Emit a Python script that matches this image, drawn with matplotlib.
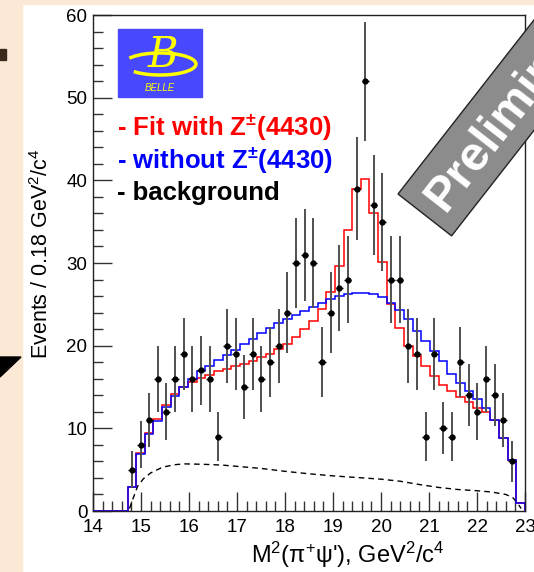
import numpy as np
import matplotlib.pyplot as plt
from matplotlib.patches import Rectangle, Polygon, Arc
from matplotlib.ticker import MultipleLocator

plt.rcParams["font.family"] = ["Liberation Sans", "DejaVu Sans"]
plt.rcParams["mathtext.default"] = "regular"

W, H = 534, 572

# === DATA: M^2(pi+ psi') in 0.18 GeV^2 bins, first filled bin starts at 14.72 ===
X_MIN, X_MAX = 14.0, 23.0
BIN_WIDTH = 0.18
FIRST_EDGE = 14.72

counts = [5, 8, 11, 16, 12, 16, 19, 16, 17, 16,
          9, 20, 19, 15, 19, 16, 18, 20, 24, 30,
          31, 30, 18, 24, 27, 28, 39, 52, 37, 35,
          28, 28, 20, 19, 9, 19, 10, 9, 18, 14,
          12, 16, 14, 11, 6, 0]

fit_with_z = [2.9, 7.0, 9.4, 11.1, 12.8, 14.1, 15.0, 15.6, 16.1, 16.5,
              16.9, 17.2, 17.5, 17.8, 18.2, 18.6, 19.0, 19.6, 20.2, 21.0,
              22.0, 23.0, 24.4, 26.5, 29.6, 34.0, 38.9, 40.2, 36.0, 30.1,
              25.1, 22.1, 20.0, 18.7, 17.5, 16.3, 15.3, 14.5, 13.8, 13.2,
              12.5, 12.0, 11.0, 8.8, 6.2, 1.0]

fit_without_z = [2.9, 6.9, 9.3, 10.9, 12.6, 13.9, 15.0, 16.0, 16.9, 17.6,
                 18.3, 18.9, 19.5, 20.2, 20.8, 21.5, 22.1, 22.7, 23.2, 23.7,
                 24.2, 24.7, 25.2, 25.6, 26.0, 26.2, 26.4, 26.4, 26.2, 25.9,
                 25.2, 24.3, 23.2, 21.8, 20.6, 19.3, 18.1, 16.6, 15.5, 14.5,
                 13.5, 12.4, 11.0, 8.8, 6.2, 1.0]

bkg_x = [14.76, 14.84, 14.93, 15.05, 15.2, 15.45, 15.7, 15.9, 16.3, 16.7,
         17.1, 17.5, 18.0, 18.5, 19.0, 19.5, 20.0, 20.4, 20.8, 21.2,
         21.6, 22.0, 22.3, 22.6, 22.75, 22.85, 22.92]
bkg_y = [0.3, 1.6, 3.0, 3.9, 4.6, 5.3, 5.6, 5.7, 5.65, 5.55,
         5.35, 5.15, 4.8, 4.5, 4.25, 4.05, 3.85, 3.6, 3.2, 2.85,
         2.6, 2.45, 2.3, 2.0, 1.6, 0.9, 0.3]

# full binning 14..23, empty below the kinematic threshold
n_lead = int(round((FIRST_EDGE - X_MIN) / BIN_WIDTH))
edges = X_MIN + BIN_WIDTH * np.arange(n_lead + len(counts) + 1)
centers = FIRST_EDGE + BIN_WIDTH * (np.arange(len(counts)) + 0.5)
red_vals = np.r_[np.zeros(n_lead), fit_with_z]
blue_vals = np.r_[np.zeros(n_lead), fit_without_z]


def fx(px):
    return px / W


def fy(py):
    return 1 - py / H


fig = plt.figure(figsize=(W / 100, H / 100), dpi=100)
fig.patch.set_facecolor("white")

# slide frame around the plot
beige = "#fce9d5"
fig.patches.append(Rectangle((0, 0), fx(22), 1, transform=fig.transFigure, color=beige, zorder=0))
fig.patches.append(Rectangle((0, fy(4)), 1, 1 - fy(4), transform=fig.transFigure, color=beige, zorder=0))
fig.patches.append(Rectangle((0, fy(60)), fx(6), fy(49) - fy(60), transform=fig.transFigure,
                             color="#3a2a1c", zorder=1))
fig.patches.append(Polygon([(fx(0), fy(357)), (fx(21), fy(357)), (fx(0), fy(377))],
                           transform=fig.transFigure, color="black", zorder=1))

ax = fig.add_axes([fx(93), fy(511), fx(525) - fx(93), fy(15) - fy(511)])

# === PLOT ===
ax.stairs(red_vals, edges, color="#ff0000", lw=1.1, zorder=3)
ax.stairs(blue_vals, edges, color="#0000ff", lw=1.1, zorder=4)
ax.plot(bkg_x, bkg_y, color="black", lw=1.0, ls=(0, (4, 3)), zorder=3)

cnt = np.array(counts, dtype=float)
has = cnt > 0
ax.errorbar(centers[has], cnt[has], yerr=np.sqrt(cnt[has]), fmt="none",
            ecolor="#505050", elinewidth=1.4, zorder=5)
ax.errorbar(centers[has], cnt[has], xerr=0.075, fmt="o", color="black",
            ms=3.5, elinewidth=1.0, zorder=6)

ax.set_xlim(X_MIN, X_MAX)
ax.set_ylim(0, 60)
ax.set_xticks(range(14, 24))
ax.set_yticks(range(0, 61, 10))
ax.xaxis.set_minor_locator(MultipleLocator(0.2))
ax.yaxis.set_minor_locator(MultipleLocator(2))
ax.tick_params(which="both", direction="in", top=False, right=False, width=1, colors="#333333",
               labelcolor="black", labelsize=13.5)
ax.tick_params(which="major", length=14)
ax.tick_params(axis="x", which="major", pad=6)
ax.tick_params(axis="y", which="major", pad=4)
ax.tick_params(which="minor", length=7)
for s in ax.spines.values():
    s.set_linewidth(1.0)
    s.set_color("#222222")

fig.text(fx(348), fy(555), "M$^{2}$(π$^{+}$ψ'), GeV$^{2}$/c$^{4}$", ha="center", va="center", fontsize=17)
fig.text(fx(42), fy(254), "Events / 0.18 GeV$^{2}$/c$^{4}$", ha="center", va="center",
         rotation=90, fontsize=15.5)

# legend lines
fig.text(fx(117), fy(127), "- Fit with Z$^{\\pm}$(4430)", color="#ff0000", fontsize=18.5,
         fontweight="bold", ha="left", va="center")
fig.text(fx(117), fy(160), "- without Z$^{\\pm}$(4430)", color="#0000ff", fontsize=18.5,
         fontweight="bold", ha="left", va="center")
fig.text(fx(117), fy(193), "- background", color="black", fontsize=18.5,
         fontweight="bold", ha="left", va="center")

# Belle logo
fig.patches.append(Rectangle((fx(118), fy(97)), fx(202) - fx(118), fy(29) - fy(97),
                             transform=fig.transFigure, color="#4848ff", zorder=5))
fig.patches.append(Arc((fx(160), fy(64)), fx(72), 22 / H, angle=0, theta1=195, theta2=170,
                       transform=fig.transFigure, color="#ffff00", lw=2.5, zorder=6))
fig.text(fx(163), fy(55), "B", color="#ffff00", fontsize=30, fontstyle="italic",
         family="DejaVu Serif", ha="center", va="center", zorder=7)
fig.text(fx(160), fy(88), "BELLE", color="#ffff00", fontsize=7, fontstyle="italic",
         ha="center", va="center", zorder=7)

# "Preliminary" banner
ang = np.deg2rad(52)
u = np.array([np.cos(ang), -np.sin(ang)])
v = np.array([np.sin(ang), np.cos(ang)])
a = np.array([398.0, 194.0])
corners = [a, a + 68 * v, a + 68 * v + 400 * u, a + 400 * u]
fig.patches.append(Polygon([(fx(p[0]), fy(p[1])) for p in corners], transform=fig.transFigure,
                           facecolor="#8c8c8c", edgecolor="#222222", lw=1, zorder=8))
t0 = a + 36 * v + 14 * u
fig.text(fx(t0[0]), fy(t0[1]), "Preliminary", color="white", fontsize=35, fontweight="bold",
         rotation=52, rotation_mode="anchor", ha="left", va="center", zorder=9)

plt.savefig("out.png", dpi=100)
